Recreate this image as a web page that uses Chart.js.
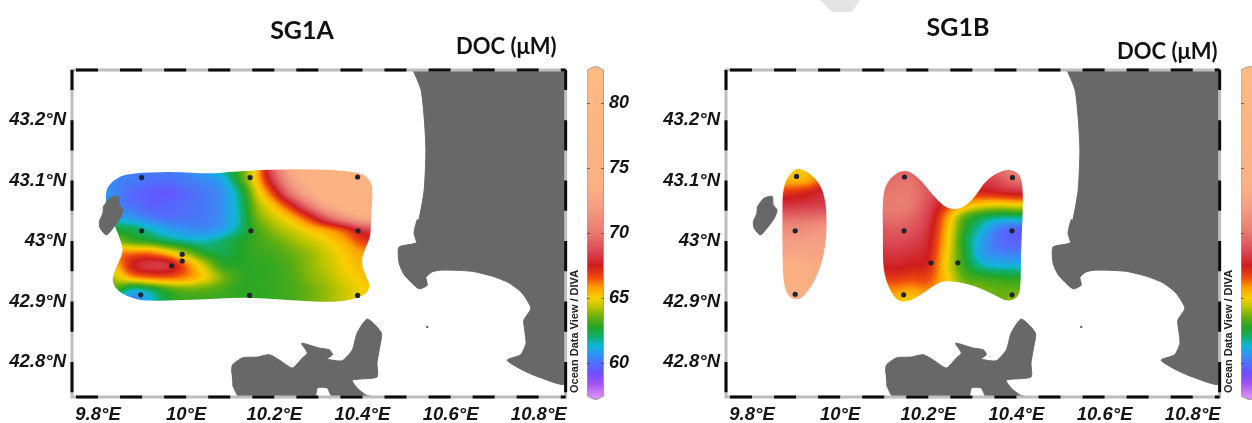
<!DOCTYPE html>
<html>
<head>
<meta charset="utf-8">
<title>DOC SG1A / SG1B</title>
<script src="https://cdn.jsdelivr.net/npm/chart.js@4/dist/chart.umd.min.js"></script>
<style>
    html, body { margin: 0; padding: 0; background: #fff; }
    body { position: relative; width: 1252px; height: 423px; overflow: hidden; }
    canvas { position: absolute; top: 0; filter: blur(0.4px); }
    .lbl { position: absolute; font-family: Lato, sans-serif; font-weight: 700; color: #111; white-space: nowrap; line-height: 1; }
    .title { font-size: 25px; transform: translate(-50%, -50%); }
    .unit { font-size: 22px; transform: translateY(-50%); }
    .mark { position: absolute; left: 820px; top: 0; width: 40px; height: 12px; background: #e4e4e4; clip-path: polygon(0 0, 100% 0, 80% 100%, 30% 100%); }
</style>
</head>
<body>
<div class="mark"></div>
<canvas id="mapA" width="574" height="423" style="left:0"></canvas>
<canvas id="barA" width="60" height="423" style="left:570px"></canvas>
<canvas id="mapB" width="574" height="423" style="left:654px"></canvas>
<canvas id="barB" width="60" height="423" style="left:1224px"></canvas>
<div class="lbl title" style="left:302px;top:29px">SG1A</div>
<div class="lbl unit" style="left:456px;top:46px">DOC (μM)</div>
<div class="lbl title" style="left:958px;top:26px">SG1B</div>
<div class="lbl unit" style="left:1117px;top:51px">DOC (μM)</div>
<script>
// ===== DATA =====
const LON_TICKS = [9.8, 10, 10.2, 10.4, 10.6, 10.8];
const LAT_TICKS = [42.8, 42.9, 43, 43.1, 43.2];
const DOC_TICKS = [60, 65, 70, 75, 80];

// grid the DOC values were read on
const FIELD_LONS = [9.80, 9.84, 9.88, 9.92, 9.96, 10.00, 10.04, 10.08, 10.12, 10.16, 10.20, 10.24, 10.28, 10.32, 10.36, 10.40, 10.44];
const FIELD_LATS = [43.12, 43.10, 43.08, 43.06, 43.04, 43.02, 43.00, 42.98, 42.96, 42.94, 42.92, 42.90];

const DOC_A = [
    [60.6, 60.5, 60.3, 60.2, 60.2, 60.4, 61.0, 61.8, 63.2, 65.5, 69.5, 73.0, 74.0, 75.0, 75.0, 75.0, 75.0],
    [60.5, 60.4, 60.2, 60.0, 60.0, 60.2, 60.5, 61.0, 62.8, 65.3, 68.5, 72.0, 74.0, 75.0, 75.0, 75.0, 75.0],
    [60.8, 60.4, 59.9, 59.6, 59.5, 59.9, 60.2, 60.6, 62.0, 64.6, 67.0, 70.3, 73.0, 74.5, 75.0, 75.0, 75.0],
    [60.8, 60.3, 60.0, 59.7, 59.8, 60.0, 60.2, 60.6, 61.8, 64.0, 65.5, 67.5, 70.3, 73.0, 74.5, 75.0, 75.0],
    [61.3, 61.0, 60.7, 60.2, 60.0, 60.1, 60.2, 60.6, 61.7, 63.6, 64.6, 65.6, 67.2, 69.5, 71.5, 73.0, 73.0],
    [62.8, 62.5, 62.2, 61.5, 60.9, 60.6, 60.5, 60.9, 61.9, 63.2, 64.0, 64.6, 65.3, 66.0, 67.0, 68.5, 69.0],
    [64.0, 63.8, 63.2, 62.8, 62.2, 61.8, 61.6, 62.0, 62.6, 63.1, 63.5, 64.0, 64.5, 65.0, 65.7, 66.8, 67.0],
    [65.5, 66.0, 66.2, 66.2, 65.3, 64.0, 62.8, 62.4, 62.7, 63.0, 63.2, 63.6, 64.0, 64.6, 65.2, 65.8, 66.0],
    [65.0, 65.5, 67.5, 68.2, 68.0, 66.2, 64.5, 63.0, 62.8, 62.9, 63.0, 63.4, 63.9, 64.4, 65.0, 65.4, 65.6],
    [63.5, 64.5, 65.8, 66.3, 66.4, 66.0, 65.0, 63.8, 63.0, 62.9, 63.0, 63.3, 63.8, 64.2, 64.8, 65.2, 65.5],
    [61.5, 63.0, 61.7, 62.3, 63.2, 63.6, 63.5, 63.2, 62.9, 62.9, 63.0, 63.2, 63.6, 64.0, 64.5, 65.0, 65.3],
    [60.8, 60.6, 60.2, 61.3, 62.6, 63.0, 63.0, 63.0, 62.9, 62.9, 63.0, 63.2, 63.6, 64.0, 64.5, 65.0, 65.3]
];

const DOC_B = [
    [null, 65.0, 65.0, 65.2, 66.0, 66.0, null, 69.0, 69.3, 69.3, 68.5, 68.0, 68.0, 68.5, 69.5, 70.5, 70.5],
    [null, 65.5, 65.5, 65.6, 66.5, 66.5, null, 69.5, 69.7, 69.8, 68.8, 68.0, 67.8, 68.0, 68.8, 69.7, 69.7],
    [null, 67.0, 67.0, 67.3, 67.8, 67.8, null, 69.8, 70.0, 70.0, 69.0, 67.6, 67.0, 67.2, 67.5, 67.8, 67.8],
    [null, 68.0, 68.1, 68.2, 68.4, 68.4, null, 70.0, 70.2, 70.0, 68.7, 67.0, 65.7, 65.0, 64.8, 65.0, 65.0],
    [null, 69.5, 69.5, 69.6, 69.8, 69.8, null, 69.6, 69.8, 69.5, 68.3, 66.0, 63.6, 62.5, 62.0, 62.0, 62.0],
    [null, 71.0, 71.0, 71.0, 71.5, 71.5, null, 69.0, 69.2, 69.0, 68.0, 65.6, 63.0, 61.5, 60.3, 59.8, 59.8],
    [null, 71.8, 71.8, 72.0, 72.0, 72.0, null, 68.5, 68.7, 68.5, 67.7, 65.4, 62.7, 61.0, 60.0, 59.7, 59.9],
    [null, 72.5, 72.5, 72.5, 72.3, 72.3, null, 68.0, 68.2, 68.0, 67.5, 65.2, 62.8, 61.0, 60.4, 60.3, 60.4],
    [null, 73.5, 73.5, 73.3, 73.0, 73.0, null, 67.5, 67.7, 67.5, 67.2, 65.0, 63.0, 61.7, 61.3, 61.3, 61.4],
    [null, 73.5, 73.5, 73.3, 73.0, 73.0, null, 66.8, 67.0, 66.8, 66.7, 65.2, 63.5, 63.0, 62.8, 62.7, 62.7],
    [null, 73.5, 73.5, 73.5, 73.3, 73.3, null, 65.8, 66.0, 65.8, 66.0, 65.2, 64.0, 63.7, 63.5, 63.5, 63.5],
    [null, 73.5, 73.5, 73.5, 73.3, 73.3, null, 65.2, 65.3, 65.0, 65.5, 65.2, 64.0, 63.7, 63.5, 64.0, 64.0]
];

// stations [lon, lat]
const STATIONS_A = [
    [9.899, 43.105], [10.145, 43.105], [10.389, 43.106],
    [9.899, 43.017], [10.147, 43.017], [10.390, 43.017],
    [9.991, 42.978], [9.991, 42.967], [9.967, 42.959],
    [9.897, 42.911], [10.144, 42.910], [10.389, 42.910]
];
const STATIONS_B = [
    [9.901, 43.107], [9.898, 43.017], [9.898, 42.912],
    [10.146, 43.106], [10.145, 43.017], [10.144, 42.911],
    [10.206, 42.964], [10.267, 42.964],
    [10.391, 43.105], [10.390, 43.017], [10.390, 42.911]
];

// outline of the gridded area [lon, lat]
const OUTLINE_A = [[
    [9.816, 43.084], [9.835, 43.101], [9.865, 43.112], [9.970, 43.115], [10.053, 43.111], [10.121, 43.116],
    [10.265, 43.120], [10.393, 43.115], [10.419, 43.101], [10.424, 43.079], [10.419, 43.040], [10.419, 43.007],
    [10.404, 42.985], [10.397, 42.963], [10.408, 42.941], [10.419, 42.925], [10.404, 42.908], [10.340, 42.898],
    [10.242, 42.902], [10.136, 42.907], [10.046, 42.904], [9.940, 42.901], [9.887, 42.902], [9.846, 42.916],
    [9.831, 42.933], [9.838, 42.952], [9.857, 42.980], [9.854, 42.996], [9.838, 43.026], [9.820, 43.051]
]];
const OUTLINE_B = [[
    [9.901, 43.122], [9.927, 43.115], [9.954, 43.095], [9.967, 43.068], [9.970, 43.029], [9.967, 42.991],
    [9.954, 42.952], [9.931, 42.919], [9.905, 42.901], [9.882, 42.908], [9.871, 42.930], [9.869, 42.980],
    [9.869, 43.029], [9.869, 43.079], [9.878, 43.104]
], [
    [10.146, 43.120], [10.180, 43.104], [10.210, 43.076], [10.240, 43.054], [10.271, 43.052], [10.301, 43.068],
    [10.331, 43.101], [10.369, 43.118], [10.399, 43.117], [10.414, 43.101], [10.415, 43.051], [10.410, 42.985],
    [10.410, 42.925], [10.403, 42.905], [10.376, 42.900], [10.346, 42.913], [10.301, 42.927], [10.255, 42.934],
    [10.225, 42.933], [10.188, 42.913], [10.157, 42.900], [10.131, 42.900], [10.112, 42.919], [10.097, 42.952],
    [10.097, 43.007], [10.096, 43.079], [10.112, 43.104]
]];

// coastlines [lon, lat]
const COAST_MAINLAND = [
    [10.512, 43.283], [10.517, 43.279], [10.533, 43.250], [10.540, 43.205], [10.544, 43.150], [10.540, 43.084],
    [10.528, 43.035], [10.524, 43.035], [10.517, 43.013], [10.522, 42.997], [10.483, 42.990], [10.483, 42.964],
    [10.495, 42.944], [10.528, 42.921], [10.547, 42.927], [10.544, 42.940], [10.558, 42.949], [10.581, 42.952],
    [10.648, 42.950], [10.694, 42.942], [10.732, 42.931], [10.762, 42.914], [10.782, 42.889], [10.766, 42.869],
    [10.768, 42.853], [10.771, 42.831], [10.759, 42.812], [10.728, 42.803], [10.762, 42.787], [10.800, 42.775],
    [10.861, 42.765], [10.861, 43.283]
];
const COAST_ELBA = [
    [10.103, 42.782], [10.105, 42.795], [10.128, 42.807], [10.160, 42.808], [10.189, 42.812], [10.212, 42.803],
    [10.241, 42.790], [10.264, 42.807], [10.275, 42.815], [10.262, 42.831], [10.302, 42.823], [10.325, 42.820],
    [10.332, 42.812], [10.320, 42.805], [10.354, 42.802], [10.377, 42.820], [10.388, 42.848], [10.411, 42.871],
    [10.443, 42.848], [10.438, 42.820], [10.433, 42.798], [10.433, 42.775], [10.377, 42.770], [10.388, 42.757],
    [10.409, 42.745], [10.427, 42.742], [10.332, 42.742], [10.320, 42.757], [10.298, 42.757], [10.291, 42.742],
    [10.121, 42.742], [10.105, 42.762]
];
const COAST_CAPRAIA = [
    [9.812, 43.057], [9.827, 43.071], [9.846, 43.074], [9.848, 43.060], [9.857, 43.051], [9.850, 43.037],
    [9.827, 43.015], [9.818, 43.010], [9.805, 43.021], [9.803, 43.032], [9.811, 43.046], [9.812, 43.057]
];
const ISLET = [[10.547, 42.858]];

// colour scale of the DOC bar [value, colour]
const DOC_STOPS = [
    [57.5, '#d58cf5'], [58.5, '#a050f0'], [59.3, '#6a4fff'], [60, '#4f6ffa'], [60.7, '#2f95f0'], [61.4, '#10b5d8'],
    [62, '#10af70'], [62.7, '#1fa52a'], [63.5, '#60ae10'], [64.3, '#bac400'], [65, '#f7d000'], [65.8, '#ffa000'],
    [66.6, '#ee4a0e'], [67.5, '#cf1c1e'], [68.5, '#d94350'], [70, '#e8796f'], [72, '#f49f84'], [73.5, '#fbb083'],
    [82.5, '#fdba82']
];
const BAR_SHAPE = [[0, 82.5], [0.5, 82.8], [1, 82.5], [1, 57.5], [0.5, 57.2], [0, 57.5], [0, 82.5]];

const LON_RANGE = [9.741, 10.861];
const LAT_RANGE = [42.742, 43.283];
const TICK_FONT = { family: '"Liberation Sans", Arial, sans-serif', size: 18.5, weight: 'bold', style: 'italic' };
const BAR_FONT = { family: '"Liberation Sans", Arial, sans-serif', size: 18, weight: 'bold', style: 'italic' };

// ===== HELPERS =====
const toXY = list => list.map(p => ({ x: p[0], y: p[1] }));

function hexRgb(hex) {
    return [1, 3, 5].map(i => parseInt(hex.substr(i, 2), 16));
}

function docColor(v) {
    if (v <= DOC_STOPS[0][0]) return hexRgb(DOC_STOPS[0][1]);
    for (let i = 1; i < DOC_STOPS.length; i++) {
        if (v <= DOC_STOPS[i][0]) {
            const t = (v - DOC_STOPS[i - 1][0]) / (DOC_STOPS[i][0] - DOC_STOPS[i - 1][0]);
            const a = hexRgb(DOC_STOPS[i - 1][1]), b = hexRgb(DOC_STOPS[i][1]);
            return a.map((c, k) => c + (b[k] - c) * t);
        }
    }
    return hexRgb(DOC_STOPS[DOC_STOPS.length - 1][1]);
}

// empty cells take the closest value of the row
function cellAt(rows, j, i) {
    const row = rows[Math.max(0, Math.min(rows.length - 1, j))];
    const c = Math.max(0, Math.min(row.length - 1, i));
    for (let d = 0; d < row.length; d++) {
        if (row[c + d] !== null && row[c + d] !== undefined) return row[c + d];
        if (row[c - d] !== null && row[c - d] !== undefined) return row[c - d];
    }
    return null;
}

function cubic(a, b, c, d, t) {
    return b + 0.5 * t * (c - a + t * (2 * a - 5 * b + 4 * c - d + t * (3 * (b - c) + d - a)));
}

// smooth reading of the grid, only used to shade between the cells
function fieldAt(rows, lon, lat) {
    const px = Math.max(0, Math.min(FIELD_LONS.length - 1, (lon - FIELD_LONS[0]) / 0.04));
    const py = Math.max(0, Math.min(FIELD_LATS.length - 1, (FIELD_LATS[0] - lat) / 0.02));
    const i = Math.floor(px), j = Math.floor(py);
    const col = [];
    for (let m = -1; m <= 2; m++) {
        col.push(cubic(cellAt(rows, j + m, i - 1), cellAt(rows, j + m, i), cellAt(rows, j + m, i + 1), cellAt(rows, j + m, i + 2), px - i));
    }
    return cubic(col[0], col[1], col[2], col[3], py - j);
}

// ===== PLUGINS =====
// paints the DOC field under the datasets, clipped to the gridded area
const fieldPlugin = {
    id: 'docField',
    beforeDatasetsDraw(chart, args, opts) {
        const { ctx, chartArea: area, scales: { x, y } } = chart;
        const w = Math.round(area.width), h = Math.round(area.height);
        const off = document.createElement('canvas');
        off.width = w; off.height = h;
        const octx = off.getContext('2d');
        const img = octx.createImageData(w, h);
        for (let py = 0; py < h; py++) {
            const lat = y.getValueForPixel(area.top + py + 0.5);
            if (lat > 43.13 || lat < 42.89) continue;
            for (let px = 0; px < w; px++) {
                const lon = x.getValueForPixel(area.left + px + 0.5);
                if (lon > 10.44) break;
                const c = docColor(fieldAt(opts.rows, lon, lat)), k = (py * w + px) * 4;
                img.data[k] = c[0]; img.data[k + 1] = c[1]; img.data[k + 2] = c[2]; img.data[k + 3] = 255;
            }
        }
        octx.putImageData(img, 0, 0);
        ctx.save();
        ctx.beginPath();
        // rounded path through the middle of each outline side
        opts.outlines.forEach(poly => {
            const pts = poly.map(p => [x.getPixelForValue(p[0]), y.getPixelForValue(p[1])]);
            pts.forEach((p, i) => {
                const q = pts[(i + 1) % pts.length];
                const mx = (p[0] + q[0]) / 2, my = (p[1] + q[1]) / 2;
                if (i === 0) ctx.moveTo(mx, my);
                else ctx.quadraticCurveTo(p[0], p[1], mx, my);
            });
            const p0 = pts[0], q0 = pts[1];
            ctx.quadraticCurveTo(p0[0], p0[1], (p0[0] + q0[0]) / 2, (p0[1] + q0[1]) / 2);
            ctx.closePath();
        });
        ctx.clip();
        ctx.drawImage(off, area.left, area.top);
        ctx.restore();
    }
};

// black / grey dashed frame, a dash every 0.05 degrees
const framePlugin = {
    id: 'odvFrame',
    afterDatasetsDraw(chart) {
        const { ctx, chartArea: area, scales: { x, y } } = chart;
        ctx.save();
        ctx.lineWidth = 3;
        ctx.strokeStyle = '#bdbdbd';
        ctx.strokeRect(area.left, area.top, area.width, area.height);
        ctx.strokeStyle = '#0c0c0c';
        ctx.beginPath();
        for (let k = 0; k < 12; k++) {
            const a = 9.75 + k * 0.1;
            const x0 = x.getPixelForValue(a), x1 = Math.min(x.getPixelForValue(a + 0.05), area.right);
            ctx.moveTo(x0, area.top); ctx.lineTo(x1, area.top);
            ctx.moveTo(x0, area.bottom); ctx.lineTo(x1, area.bottom);
        }
        for (let k = 0; k < 6; k++) {
            const b = 42.75 + k * 0.1;
            const y0 = y.getPixelForValue(b), y1 = Math.max(y.getPixelForValue(b + 0.05), area.top);
            ctx.moveTo(area.left, y0); ctx.lineTo(area.left, y1);
            ctx.moveTo(area.right, y0); ctx.lineTo(area.right, y1);
        }
        ctx.stroke();
        ctx.restore();
    }
};

// small ticks inside the colour bar and the ODV credit
const barPlugin = {
    id: 'barMarks',
    afterDatasetsDraw(chart) {
        const { ctx, chartArea: area, scales: { y } } = chart;
        ctx.save();
        ctx.strokeStyle = 'rgba(60,60,60,0.7)';
        ctx.beginPath();
        DOC_TICKS.forEach(v => {
            const py = Math.round(y.getPixelForValue(v)) + 0.5;
            ctx.moveTo(area.left, py); ctx.lineTo(area.left + 3, py);
            ctx.moveTo(area.right - 3, py); ctx.lineTo(area.right, py);
        });
        ctx.stroke();
        ctx.translate(area.left - 12, 393);
        ctx.rotate(-Math.PI / 2);
        ctx.fillStyle = '#222';
        ctx.font = 'bold 11px "Liberation Sans", Arial, sans-serif';
        ctx.textAlign = 'left';
        ctx.textBaseline = 'middle';
        ctx.fillText('Ocean Data View / DIVA', 0, 0);
        ctx.restore();
    }
};

// ===== CHARTS =====
function landDataset(label, coords) {
    return {
        label, data: toXY(coords), showLine: true, fill: 'shape', tension: 0.2,
        backgroundColor: '#686868', borderColor: '#686868', borderWidth: 1, pointRadius: 0, order: 2
    };
}

function drawMap(id, rows, outlines, stations) {
    return new Chart(document.getElementById(id), {
        type: 'scatter',
        data: {
            datasets: [
                { label: 'Stations', data: toXY(stations), pointRadius: 2.6, borderWidth: 0, backgroundColor: '#20242c', order: 1 },
                landDataset('Mainland', COAST_MAINLAND),
                landDataset('Elba', COAST_ELBA),
                landDataset('Capraia', COAST_CAPRAIA),
                { label: 'Islet', data: toXY(ISLET), pointRadius: 1.2, borderWidth: 0, backgroundColor: '#686868', order: 2 }
            ]
        },
        options: {
            responsive: false,
            animation: false,
            layout: { padding: { top: 70, right: 7 } },
            plugins: { legend: { display: false }, tooltip: { enabled: false }, docField: { rows, outlines } },
            scales: {
                x: {
                    type: 'linear', min: LON_RANGE[0], max: LON_RANGE[1],
                    grid: { display: false, drawTicks: false }, border: { display: false },
                    afterBuildTicks: s => { s.ticks = LON_TICKS.map(value => ({ value })); },
                    afterFit: s => { s.height = 26; },
                    ticks: { autoSkip: false, maxRotation: 0, padding: 7, color: '#151515', font: TICK_FONT, callback: v => v + '°E' }
                },
                y: {
                    type: 'linear', min: LAT_RANGE[0], max: LAT_RANGE[1],
                    grid: { display: false, drawTicks: false }, border: { display: false },
                    afterBuildTicks: s => { s.ticks = LAT_TICKS.map(value => ({ value })); },
                    afterFit: s => { s.width = 72; },
                    ticks: { autoSkip: false, padding: 6, color: '#151515', font: TICK_FONT, callback: v => v + '°N' }
                }
            }
        },
        plugins: [fieldPlugin, framePlugin]
    });
}

function drawBar(id) {
    return new Chart(document.getElementById(id), {
        type: 'scatter',
        data: {
            datasets: [{
                label: 'DOC (μM)',
                data: toXY(BAR_SHAPE),
                showLine: true, fill: 'shape', tension: 0, pointRadius: 0,
                borderColor: '#a0a0a0', borderWidth: 1,
                backgroundColor: c => {
                    const { chartArea, scales: { y }, ctx } = c.chart;
                    if (!chartArea) return 'transparent';
                    const g = ctx.createLinearGradient(0, y.getPixelForValue(82.5), 0, y.getPixelForValue(57.5));
                    DOC_STOPS.forEach(s => g.addColorStop((82.5 - s[0]) / 25, s[1]));
                    return g;
                }
            }]
        },
        options: {
            responsive: false,
            animation: false,
            layout: { padding: { top: 66, bottom: 23, left: 17 } },
            plugins: { legend: { display: false }, tooltip: { enabled: false } },
            scales: {
                x: { type: 'linear', min: 0, max: 1, display: false },
                y: {
                    type: 'linear', position: 'right', min: 57.2, max: 82.8,
                    grid: { display: false, drawTicks: false }, border: { display: false },
                    afterBuildTicks: s => { s.ticks = DOC_TICKS.map(value => ({ value })); },
                    afterFit: s => { s.width = 26; },
                    ticks: { autoSkip: false, padding: 5, color: '#151515', font: BAR_FONT }
                }
            }
        },
        plugins: [barPlugin]
    });
}

drawMap('mapA', DOC_A, OUTLINE_A, STATIONS_A);
drawBar('barA');
drawMap('mapB', DOC_B, OUTLINE_B, STATIONS_B);
drawBar('barB');
</script>
</body>
</html>
